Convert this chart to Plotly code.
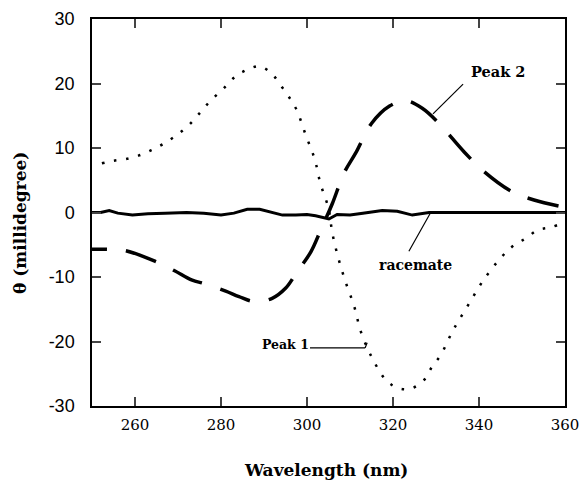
import plotly.graph_objects as go

# ---- data ----
peak1_wl = [252.3, 255.1, 257.9, 260.8, 263.7, 266.4, 269.3, 272.3, 275.0, 277.5, 280.5, 283.3,
            286.1, 289.0, 291.8, 294.0, 296.0, 297.6, 299.7, 301.8, 303.1, 305.0, 305.9, 307.3,
            309.0, 311.0, 312.5, 315.0, 318.5, 321.4, 324.3, 327.2, 329.0, 331.1, 334.0, 337.4,
            340.9, 345.3, 348.0, 350.9, 353.7, 356.7, 360.0]
peak1_val = [7.63, 8.03, 8.29, 8.81, 9.64, 10.57, 11.81, 13.41, 15.38, 17.29, 19.15, 21.05,
             22.14, 22.67, 21.52, 19.61, 17.71, 15.89, 12.02, 8.25, 4.53, 0.65, -3.22, -7.10,
             -10.82, -14.60, -18.42, -22.36, -26.08, -27.26, -27.26, -25.97, -24.0, -22.09, -18.22, -14.45,
             -10.62, -6.85, -5.15, -4.0, -2.71, -2.29, -1.5]

peak2_wl = [250, 253.3, 257.7, 264.8, 269.1, 273.3, 276.0, 281.1, 284.2, 287.7, 291.9, 295.0,
            297.7, 300.9, 303.2, 305.9, 308.6, 311.3, 315.0, 319.2, 322.9, 326.8, 330.7, 336.5,
            341.2, 347.7, 352.8, 360]
peak2_val = [-5.7, -5.7, -5.9, -7.6, -9.0, -10.5, -11.0, -12.2, -13.05, -13.8, -13.3, -11.75,
             -9.2, -6.1, -2.7, 1.4, 6.1, 9.2, 13.8, 16.5, 17.33, 16.15, 13.8, 9.43,
             6.33, 3.22, 1.94, 0.8]

rac_wl = [250, 252, 254, 256, 259.4, 263, 267, 272, 276, 280, 283, 286.1, 289, 292, 294.3,
          297.4, 300, 302, 305.1, 307, 310, 313, 317.5, 321, 324.5, 328.4, 335, 345, 360]
rac_val = [0.0, 0.0, 0.3, -0.1, -0.4, -0.2, -0.1, 0.0, -0.1, -0.4, -0.1, 0.5, 0.5, 0.0, -0.4,
           -0.4, -0.3, -0.5, -1.0, -0.3, -0.4, -0.1, 0.3, 0.2, -0.4, 0.0, 0.0, 0.0, 0.0]

x_ticks = [260, 280, 300, 320, 340, 360]
x_ticktext = ["260", "280", "300", "320", "340", "360"]
y_ticks = [-30, -20, -10, 0, 10, 20, 30]
y_ticktext = ["-30", "-20", "-10", "0", "10", "20", "30"]

# labels: (text, x, y, font size) and leader lines (x0, y0, x1, y1)
labels = [("Peak 2", 344.4, 21.8, 14.5), ("racemate", 325.3, -8.1, 14), ("Peak 1", 294.9, -20.5, 12.5)]
leaders = [(336.3, 19.9, 329.3, 15.3), (323.7, -6.0, 328.6, -0.2),
           (300.7, -21.0, 313.5, -21.0), (313.5, -21.0, 314.0, -20.2)]

dash2 = "15px,19px," + ",".join(["32px,19px"] * 40)

fig = go.Figure()
fig.add_trace(go.Scatter(x=rac_wl, y=rac_val, mode="lines",
                         line=dict(color="black", width=3)))
fig.add_trace(go.Scatter(x=peak2_wl, y=peak2_val, mode="lines", line_shape="spline",
                         line=dict(color="black", width=3.5, dash=dash2)))
fig.add_trace(go.Scatter(x=peak1_wl, y=peak1_val, mode="lines", line_shape="spline",
                         line=dict(color="black", width=2.5, dash="2.5px,9.8px")))

serif = "DejaVu Serif"
for t, x, y, s in labels:
    fig.add_annotation(x=x, y=y, text="<b>%s</b>" % t, showarrow=False,
                       xanchor="center", yanchor="middle",
                       font=dict(family=serif, size=s, color="black"))
for x0, y0, x1, y1 in leaders:
    fig.add_shape(type="line", x0=x0, y0=y0, x1=x1, y1=y1, xref="x", yref="y",
                  line=dict(color="black", width=1.2))

fig.add_annotation(xref="paper", yref="paper", x=(326 - 92) / 473, y=(406 - 470) / 387,
                   xanchor="center", yanchor="middle",
                   text="<b>Wavelength (nm)</b>", showarrow=False,
                   font=dict(family=serif, size=17, color="black"))
fig.add_annotation(xref="paper", yref="paper", x=(20 - 92) / 473, y=(406 - 223) / 387,
                   xanchor="center", yanchor="middle",
                   text="<b>θ (millidegree)</b>", showarrow=False, textangle=-90,
                   font=dict(family=serif, size=17, color="black"))

fig.update_layout(
    width=581, height=483, showlegend=False,
    margin=dict(l=92, r=16, t=19, b=77),
    plot_bgcolor="white", paper_bgcolor="white",
    xaxis=dict(range=[250, 360], tickvals=x_ticks, ticktext=x_ticktext, ticks="inside",
               ticklen=9, tickwidth=1.5, automargin=False,
               showline=True, linewidth=1.5, linecolor="black", mirror="ticks",
               showgrid=False, zeroline=False, ticklabelstandoff=4,
               tickfont=dict(family=serif, size=15, color="black")),
    yaxis=dict(range=[-30, 30], tickvals=y_ticks, ticktext=y_ticktext, ticks="inside",
               ticklen=9, tickwidth=1.5, automargin=False,
               showline=True, linewidth=1.5, linecolor="black", mirror="ticks",
               showgrid=False, zeroline=False, ticklabelstandoff=12,
               tickfont=dict(family="Liberation Sans", size=18, color="black")),
)

fig.write_html("out.html")
